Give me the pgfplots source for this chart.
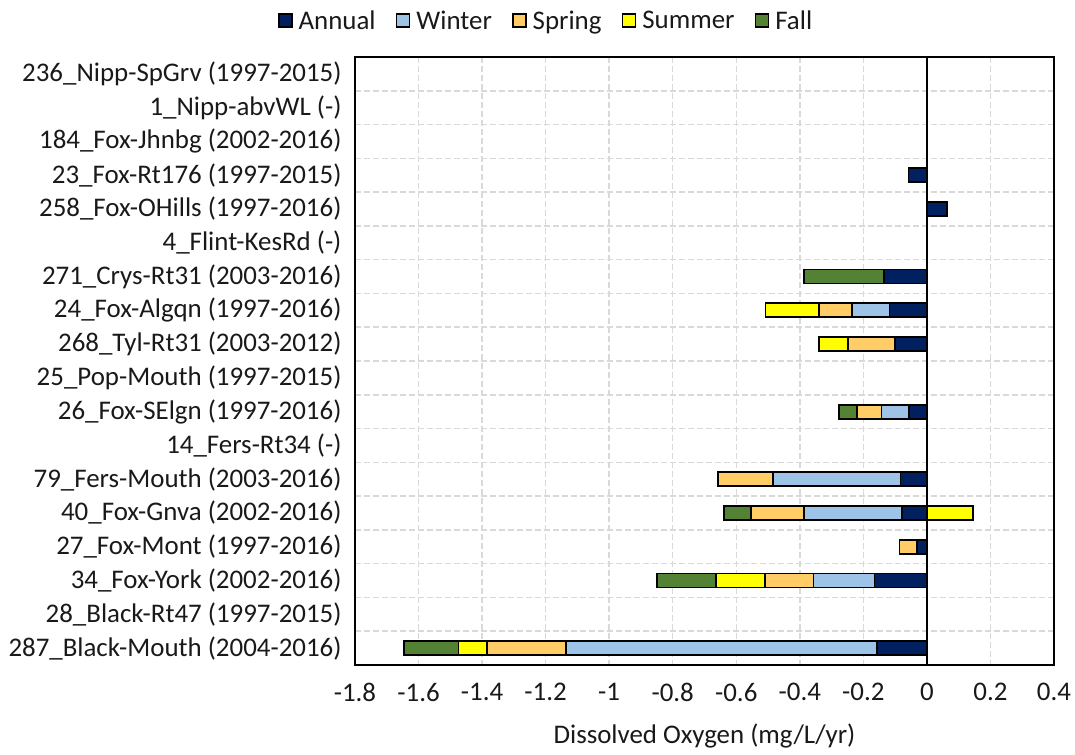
\documentclass[border=0pt]{standalone}
\usepackage{pgfplots}
\pgfplotsset{compat=1.18}
\usepackage{pgfplotstable}
\usepackage{fontspec}
\setmainfont{Carlito}
\definecolor{cAnnual}{HTML}{002060}
\definecolor{cWinter}{HTML}{9DC3E6}
\definecolor{cSpring}{HTML}{FFCC66}
\definecolor{cSummer}{HTML}{FFFF00}
\definecolor{cFall}{HTML}{548235}
\definecolor{cGrid}{HTML}{D9D9D9}

\pgfplotstableread{
idx annual winter spring summer fall summerpos
0  0      0      0      0      0      0
1  0      0      0      0      0      0
2  0      0      0      0      0      0
3  -0.058 0      0      0      0      0
4  0.064  0      0      0      0      0
5  0      0      0      0      0      0
6  -0.134 0      0      0      -0.253 0
7  -0.118 -0.117 -0.105 -0.168 0      0
8  -0.101 0      -0.148 -0.090 0      0
9  0      0      0      0      0      0
10 -0.057 -0.086 -0.077 0      -0.056 0
11 0      0      0      0      0      0
12 -0.083 -0.402 -0.173 0      0      0
13 -0.078 -0.310 -0.166 0      -0.084 0.146
14 -0.031 0      -0.055 0      0      0
15 -0.165 -0.192 -0.153 -0.155 -0.185 0
16 0      0      0      0      0      0
17 -0.156 -0.980 -0.248 -0.090 -0.171 0
}\data

\pgfplotsset{
  common/.style={
    at={(0,0)}, anchor=south west, scale only axis,
    width=699bp, height=608bp,
    xmin=-1.8, xmax=0.4, ymin=-0.5, ymax=17.5, y dir=reverse,
  },
}

\begin{document}
\begin{tikzpicture}
\begin{axis}[
  common,
  xbar stacked, bar width=14bp,
  xtick={-1.8,-1.6,-1.4,-1.2,-1,-0.8,-0.6,-0.4,-0.2,0,0.2,0.4},
  xticklabels={-1.8,-1.6,-1.4,-1.2,-1,-0.8,-0.6,-0.4,-0.2,0,0.2,0.4},
  ytick={0,...,17},
  yticklabels={236\_Nipp-SpGrv (1997-2015),1\_Nipp-abvWL (-),184\_Fox-Jhnbg (2002-2016),23\_Fox-Rt176 (1997-2015),258\_Fox-OHills (1997-2016),4\_Flint-KesRd (-),271\_Crys-Rt31 (2003-2016),24\_Fox-Algqn (1997-2016),268\_Tyl-Rt31 (2003-2012),25\_Pop-Mouth (1997-2015),26\_Fox-SElgn (1997-2016),14\_Fers-Rt34 (-),79\_Fers-Mouth (2003-2016),40\_Fox-Gnva (2002-2016),27\_Fox-Mont (1997-2016),34\_Fox-York (2002-2016),28\_Black-Rt47 (1997-2015),287\_Black-Mouth (2004-2016)},
  minor ytick={0.5,1.5,...,16.5},
  xmajorgrids=true, yminorgrids=true,
  grid style={cGrid, dash pattern=on 6bp off 3bp, line width=1.5bp},
  major tick length=0pt, minor tick length=0pt,
  axis line style={black, line width=1.8bp},
  tick label style={font=\fontsize{27}{32}\selectfont, text=black!90},
  yticklabel style={xshift=-10bp},
  xticklabel style={yshift=-15bp},
  xlabel={Dissolved Oxygen (mg/L/yr)},
  xlabel style={font=\fontsize{27}{32}\selectfont, text=black!90, yshift=-15bp},
  legend columns=5,
  legend style={draw=none, fill=none, at={(0.279,1)}, anchor=south, yshift=22bp, xshift=-4bp,
    font=\fontsize{27}{32}\selectfont, text=black!90,
    /tikz/every odd column/.append style={column sep=4bp},
    /tikz/every even column/.append style={column sep=18bp}},
  legend image code/.code={\draw[#1, line width=1.8bp] (0bp,-6bp) rectangle (13bp,7bp);},
  every axis plot/.append style={draw=black, line width=1.8bp},
]
\addplot[fill=cAnnual] table[x=annual, y=idx] {\data};
\addlegendentry{Annual}
\addplot[fill=cWinter] table[x=winter, y=idx] {\data};
\addlegendentry{Winter}
\addplot[fill=cSpring] table[x=spring, y=idx] {\data};
\addlegendentry{Spring}
\addplot[fill=cSummer] table[x=summer, y=idx] {\data};
\addlegendentry{Summer}
\addplot[fill=cFall] table[x=fall, y=idx] {\data};
\addlegendentry{Fall}
\end{axis}
\begin{axis}[
  common, hide axis,
  xbar, bar width=14bp, bar shift=0pt,
]
\addplot[fill=cSummer, draw=black, line width=1.8bp] table[x=summerpos, y=idx] {\data};
\draw[black, line width=1.8bp] (axis cs:0,-0.5) -- (axis cs:0,17.5);
\end{axis}
\pgfresetboundingbox
\useasboundingbox (-355bp,-90bp) rectangle (720bp,665bp);
\end{tikzpicture}
\end{document}
